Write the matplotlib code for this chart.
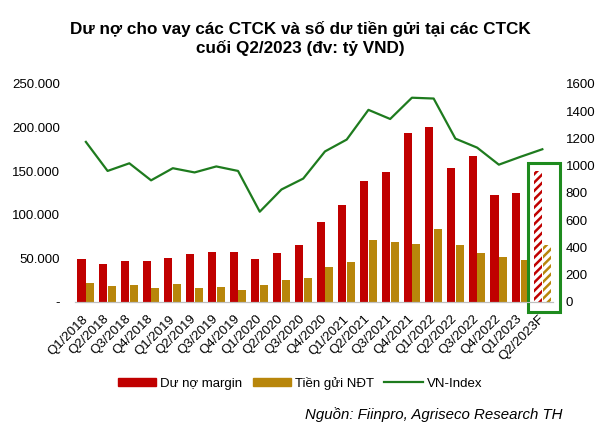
import matplotlib
matplotlib.use("Agg")

import matplotlib.pyplot as plt
from matplotlib.lines import Line2D
from matplotlib.patches import Patch, Rectangle
from matplotlib.ticker import FuncFormatter
import numpy as np

plt.rcParams["font.family"] = ["Liberation Sans", "DejaVu Sans"]
plt.rcParams["hatch.linewidth"] = 1.8

# ---------- DATA ----------
quarters = ["Q1/2018", "Q2/2018", "Q3/2018", "Q4/2018", "Q1/2019", "Q2/2019",
            "Q3/2019", "Q4/2019", "Q1/2020", "Q2/2020", "Q3/2020", "Q4/2020",
            "Q1/2021", "Q2/2021", "Q3/2021", "Q4/2021", "Q1/2022", "Q2/2022",
            "Q3/2022", "Q4/2022", "Q1/2023", "Q2/2023F"]
margin = [49000, 43200, 47000, 47000, 50100, 54700, 57000, 57700, 49700, 55800,
          65400, 91400, 110900, 138800, 149100, 193800, 200300, 153700, 167800,
          122400, 125000, 150000]
deposits = [21400, 18700, 19100, 15700, 20300, 16000, 16800, 13800, 19500, 25200,
            27200, 39800, 45500, 71100, 69200, 66900, 83700, 65000, 56500, 52000,
            47800, 65000]
vnindex = [1174, 961, 1017, 892, 981, 950, 994, 961, 662, 825,
           905, 1104, 1191, 1409, 1342, 1498, 1492, 1198, 1132, 1007,
           1065, 1120]

# ---------- THEME ----------
RED = "#C00000"
GOLD = "#B8860B"
GREEN = "#1E7B1E"

fig = plt.figure(figsize=(6, 4.32), dpi=100)
ax = fig.add_axes([0.125, 0.301, 0.797, 0.505])
ax2 = ax.twinx()

x = np.arange(len(quarters))
w = 0.37
off = 0.2
n = len(quarters) - 1  # last one is a forecast

ax.bar(x[:n] - off, margin[:n], w, color=RED, zorder=2)
ax.bar(x[:n] + off, deposits[:n], w, color=GOLD, zorder=2)
ax.bar(x[n] - off, margin[n], w, color="white", edgecolor=RED, hatch="////",
       linewidth=0, zorder=2)
ax.bar(x[n] + off, deposits[n], w, color="white", edgecolor=GOLD, hatch="////",
       linewidth=0, zorder=2)

ax2.plot(x, vnindex, color=GREEN, lw=1.6, zorder=3)

ax.set_xlim(-0.5, len(quarters) - 0.5)
ax.set_ylim(0, 250000)
ax2.set_ylim(0, 1600)
ax.set_yticks(np.arange(0, 250001, 50000))
ax2.set_yticks(np.arange(0, 1601, 200))


def thousands(v, pos):
    if v == 0:
        return "-"
    return f"{int(v):,}".replace(",", ".")


ax.yaxis.set_major_formatter(FuncFormatter(thousands))
ax.set_xticks(x)
ax.set_xticklabels(quarters, rotation=45, ha="right", va="center",
                   rotation_mode="anchor", fontsize=9)

for a in (ax, ax2):
    for s in ("top", "left", "right"):
        a.spines[s].set_visible(False)
    a.spines["bottom"].set_color("#BFBFBF")
    a.tick_params(length=0, labelsize=9.5, colors="#000000")
ax.tick_params(axis="x", pad=11)
ax.tick_params(axis="y", pad=11)
ax2.tick_params(axis="y", pad=9)

# highlight box around the forecast
box = Rectangle((20.35, -11500), 1.47, 171000, fill=False,
                edgecolor="#1E8B1E", lw=2.2, clip_on=False, zorder=4)
ax.add_patch(box)

fig.text(0.5, 0.933, "Dư nợ cho vay các CTCK và số dư tiền gửi tại các CTCK",
         ha="center", va="center", fontsize=12.3, fontweight="bold")
fig.text(0.5, 0.888, "cuối Q2/2023 (đv: tỷ VND)",
         ha="center", va="center", fontsize=12.3, fontweight="bold")

handles = [Patch(color=RED, label="Dư nợ margin"),
           Patch(color=GOLD, label="Tiền gửi NĐT"),
           Line2D([], [], color=GREEN, lw=1.6, label="VN-Index")]
fig.legend(handles=handles, loc="center", bbox_to_anchor=(0.5, 0.113), ncol=3,
           frameon=False, fontsize=9.5, handlelength=2.9, handleheight=0.5,
           columnspacing=0.8, handletextpad=0.3)

fig.text(0.938, 0.04, "Nguồn: Fiinpro, Agriseco Research TH", ha="right",
         va="center", fontsize=10.8, style="italic")

fig.savefig("out.png", dpi=100)
